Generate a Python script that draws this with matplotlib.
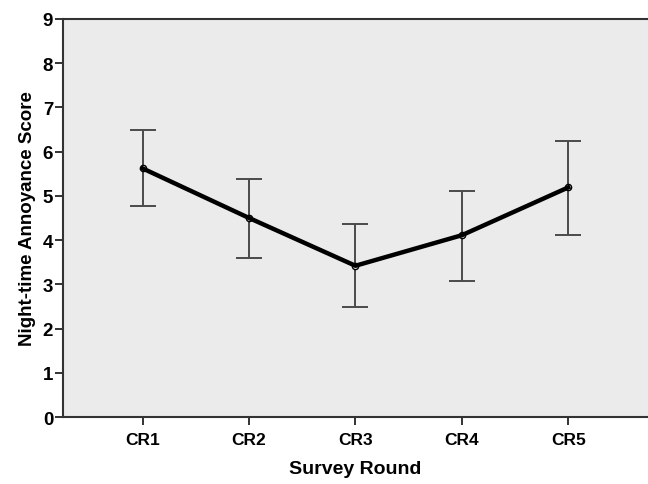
import matplotlib
matplotlib.use("Agg")
import matplotlib.pyplot as plt

# values
rounds = ["CR1", "CR2", "CR3", "CR4", "CR5"]
means = [5.62, 4.50, 3.42, 4.11, 5.19]
upper = [6.48, 5.39, 4.36, 5.10, 6.24]
lower = [4.76, 3.59, 2.48, 3.08, 4.12]

plt.rcParams['font.family'] = ['Liberation Sans', 'DejaVu Sans']
plt.rcParams['font.weight'] = 'bold'

fig = plt.figure(figsize=(6.48, 4.85), dpi=100)
ax = fig.add_axes([0.097, 0.138, 0.903, 0.821])
ax.set_facecolor('#ebebeb')

x = list(range(1, len(rounds) + 1))
err_lo = [m - l for m, l in zip(means, lower)]
err_hi = [u - m for m, u in zip(means, upper)]

ax.errorbar(x, means, yerr=[err_lo, err_hi], fmt='none', ecolor='#4a4a4a',
            elinewidth=1.4, capsize=9.5, capthick=1.4, zorder=2)
# markers sit under the thick line, so only the end points show as rings
ax.plot(x, means, 'o', markersize=4.5, markerfacecolor='#ebebeb',
        markeredgecolor='black', markeredgewidth=1.0, zorder=3)
ax.plot(x, means, color='black', linewidth=3.2, zorder=4)

ax.set_xlim(0.25, 5.75)
ax.set_ylim(0, 9)
ax.set_xticks(x)
ax.set_xticklabels(rounds)
ax.set_yticks(range(0, 10))

for side in ['left', 'bottom', 'top']:
    ax.spines[side].set_color('#333333')
    ax.spines[side].set_linewidth(1.5)
ax.spines['right'].set_visible(False)

ax.tick_params(axis='both', direction='out', length=6, width=1.4,
               color='#333333', pad=1)
ax.tick_params(axis='y', labelsize=13.5)
ax.tick_params(axis='x', labelsize=12.5, pad=5)

ax.set_xlabel("Survey Round", fontsize=14, fontweight='bold', labelpad=9)
ax.set_ylabel("Night-time Annoyance Score", fontsize=13.5, fontweight='bold',
              labelpad=5)

fig.savefig("out.png", dpi=100)
